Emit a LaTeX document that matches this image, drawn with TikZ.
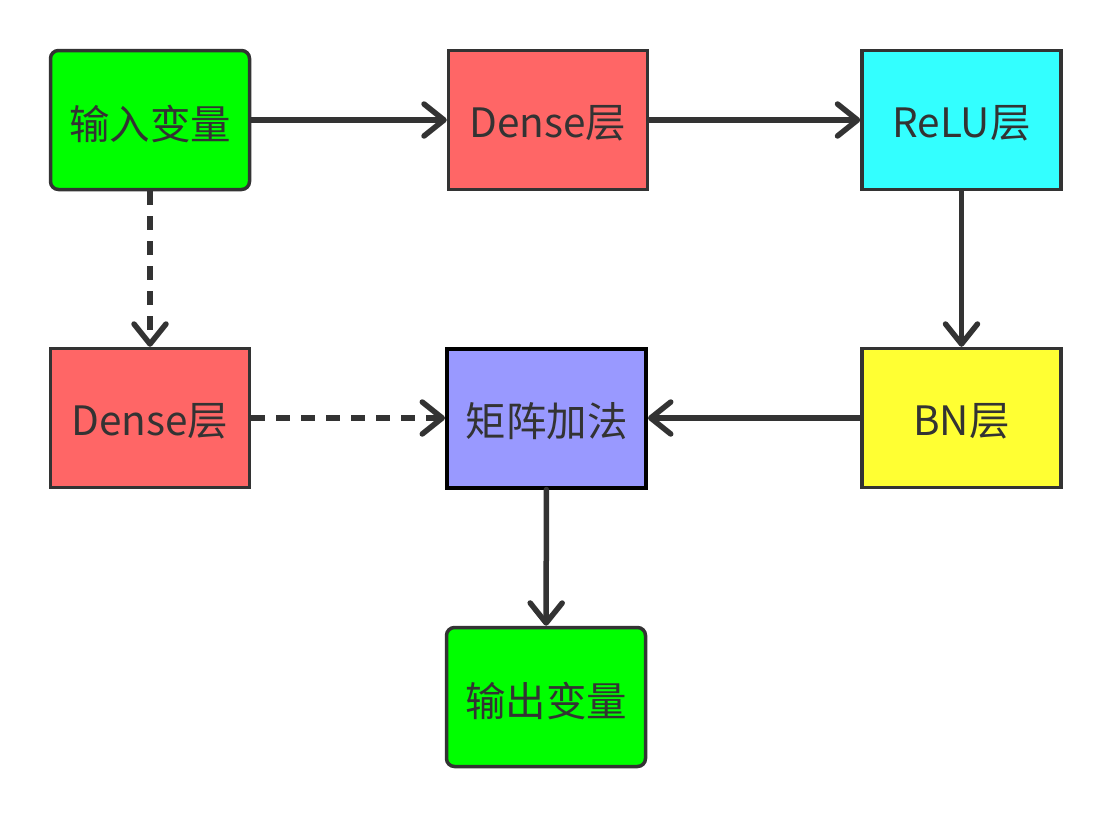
\documentclass[tikz,border=0pt]{standalone}
\usepackage{fontspec}
\setmainfont{Noto Sans CJK SC}
\usetikzlibrary{arrows.meta}
\definecolor{edge}{HTML}{333333}
\definecolor{gfill}{HTML}{00FF00}
\definecolor{rfill}{HTML}{FF6666}
\definecolor{cfill}{HTML}{33FFFF}
\definecolor{yfill}{HTML}{FFFF33}
\definecolor{bfill}{HTML}{9999FF}
\newcommand{\lowtxt}[1]{\raisebox{-3.5pt}[\height][\depth]{#1}}
\tikzset{
  box/.style={draw=edge, line width=3.5pt, minimum width=199pt, minimum height=139pt,
    inner sep=0pt, text=edge, font=\fontsize{40.5pt}{46pt}\selectfont},
  rbox/.style={box, rounded corners=8pt},
  conn/.style={draw=edge, line width=5.5pt, line cap=round,
    -{Straight Barb[length=20pt,width=32pt,line cap=round,line join=round]}},
  dconn/.style={conn, line cap=butt, dash pattern=on 14pt off 11pt}
}
\begin{document}
\begin{tikzpicture}[x=1pt,y=-1pt]
\useasboundingbox (0,0) rectangle (1111,817);
\node[rbox, fill=gfill] (in) at (150,120) {\lowtxt{输入变量}};
\node[box, fill=rfill] (d1) at (548,120) {\lowtxt{Dense层}};
\node[box, fill=cfill] (relu) at (961.5,120) {\lowtxt{ReLU层}};
\node[box, fill=rfill] (d2) at (150,418) {\lowtxt{Dense层}};
\node[box, fill=bfill, draw=black, line width=4pt] (add) at (546.5,418) {\lowtxt{矩阵加法}};
\node[box, fill=yfill] (bn) at (961.5,418) {\lowtxt{BN层}};
\node[rbox, fill=gfill] (out) at (546,697) {\lowtxt{输出变量}};
\draw[conn] (in) -- (d1);
\draw[conn] (d1) -- (relu);
\draw[conn] (relu) -- (bn);
\draw[conn] (bn) -- (add);
\draw[conn] (add) -- (out);
\draw[dconn] (in) -- (d2);
\draw[dconn] (d2) -- (add);
\end{tikzpicture}
\end{document}
